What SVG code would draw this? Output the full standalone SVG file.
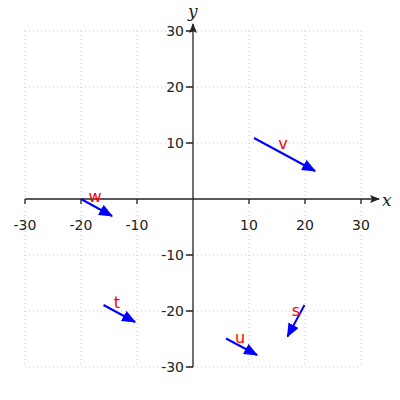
<svg xmlns="http://www.w3.org/2000/svg" width="400" height="400" viewBox="0 0 400 400">
<style>
.grid{stroke:#c8c8c8;stroke-width:1;stroke-dasharray:1,3}
.axis{stroke:#222;stroke-width:1.3;fill:none}
.tick{font-family:"DejaVu Sans",sans-serif;font-size:14px;fill:#222}
.lab{font-family:"DejaVu Serif",serif;font-style:italic;font-size:17px;fill:#222}
.vec{stroke:#0000ff;stroke-width:2;fill:none;marker-end:url(#ah)}
.vl{font-family:"DejaVu Sans",sans-serif;font-size:16px;fill:#ff0000;text-anchor:middle}
</style>
<defs>
<marker id="ah" viewBox="0 0 12 10" refX="11" refY="5" markerWidth="7" markerHeight="5.8" orient="auto" markerUnits="strokeWidth">
<path d="M0,0 L12,5 L0,10 Z" fill="#0000ff"/>
</marker>
<marker id="ax" viewBox="0 0 10 8" refX="9" refY="4" markerWidth="10" markerHeight="8" orient="auto" markerUnits="userSpaceOnUse">
<path d="M0,0 L10,4 L0,8 L2,4 Z" fill="#222"/>
</marker>
</defs>
<rect width="400" height="400" fill="#fff"/>
<g id="grid">
<line class="grid" x1="25" y1="31" x2="25" y2="367"/>
<line class="grid" x1="81" y1="31" x2="81" y2="367"/>
<line class="grid" x1="137" y1="31" x2="137" y2="367"/>
<line class="grid" x1="249" y1="31" x2="249" y2="367"/>
<line class="grid" x1="305" y1="31" x2="305" y2="367"/>
<line class="grid" x1="361" y1="31" x2="361" y2="367"/>
<line class="grid" x1="25" y1="31" x2="361" y2="31"/>
<line class="grid" x1="25" y1="87" x2="361" y2="87"/>
<line class="grid" x1="25" y1="143" x2="361" y2="143"/>
<line class="grid" x1="25" y1="255" x2="361" y2="255"/>
<line class="grid" x1="25" y1="311" x2="361" y2="311"/>
<line class="grid" x1="25" y1="367" x2="361" y2="367"/>
</g>
<g id="axes">
<line class="axis" x1="25" y1="199" x2="379" y2="199" marker-end="url(#ax)"/>
<line class="axis" x1="193" y1="367" x2="193" y2="24" marker-end="url(#ax)"/>
<path class="axis" d="M25,199v5M81,199v5M137,199v5M249,199v5M305,199v5M361,199v5M186,31h7M186,87h7M186,143h7M186,255h7M186,311h7M186,367h7"/>
<text class="lab" x="382" y="206">x</text>
<text class="lab" x="188" y="17">y</text>
<g class="tick" text-anchor="middle">
<text x="25" y="230">-30</text>
<text x="81" y="230">-20</text>
<text x="137" y="230">-10</text>
<text x="249" y="230">10</text>
<text x="305" y="230">20</text>
<text x="361" y="230">30</text>
</g>
<g class="tick" text-anchor="end">
<text x="184" y="36">30</text>
<text x="184" y="92">20</text>
<text x="184" y="148">10</text>
<text x="184" y="260">-10</text>
<text x="184" y="316">-20</text>
<text x="184" y="372">-30</text>
</g>
</g>
<g id="connectors">
<line class="vec" x1="254" y1="138" x2="315" y2="171"/>
<line class="vec" x1="81" y1="199" x2="112" y2="216"/>
<line class="vec" x1="103.5" y1="305" x2="135" y2="322"/>
<line class="vec" x1="226" y1="338.5" x2="257" y2="355"/>
<line class="vec" x1="304.5" y1="305" x2="287.5" y2="336.5"/>
</g>
<g id="v"><text class="vl" x="283" y="149">v</text></g>
<g id="w"><text class="vl" x="95" y="202">w</text></g>
<g id="t"><text class="vl" x="117" y="308">t</text></g>
<g id="u"><text class="vl" x="240" y="343">u</text></g>
<g id="s"><text class="vl" x="296" y="316">s</text></g>
</svg>
